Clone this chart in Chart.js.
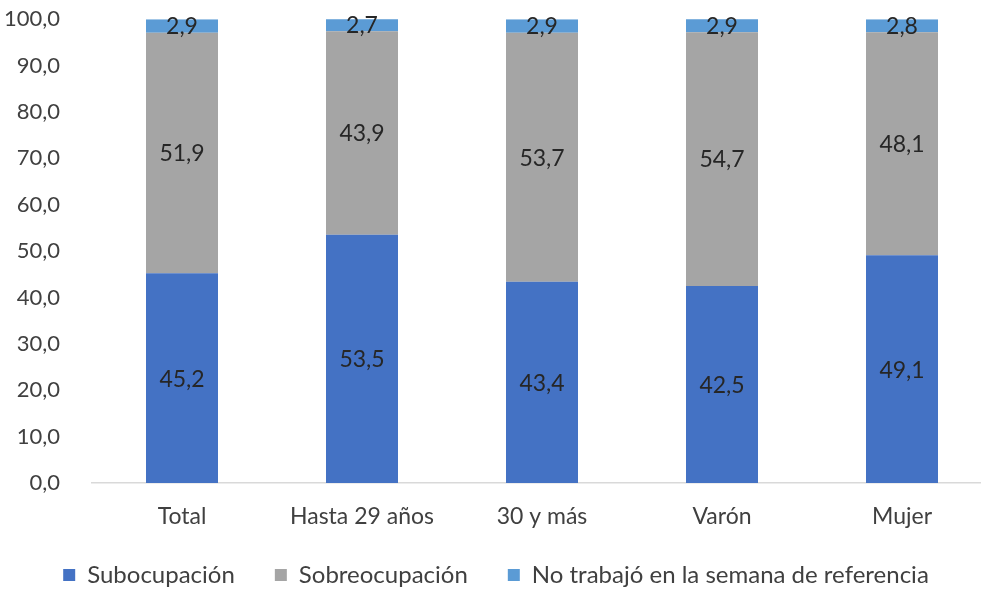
<!DOCTYPE html>
<html lang="es">
<head>
<meta charset="UTF-8">
<title>Subocupación y sobreocupación</title>
<script src="https://cdn.jsdelivr.net/npm/chart.js"></script>
<style>
    html, body { margin: 0; padding: 0; background: #fff; overflow: hidden; }
    .wrap { position: relative; top: -18px; width: 1010px; height: 615px; }
</style>
</head>
<body>
<div class="wrap"><canvas id="chart"></canvas></div>
<script>
const categories = ['Total', 'Hasta 29 años', '30 y más', 'Varón', 'Mujer'];
const subocupacion = [45.2, 53.5, 43.4, 42.5, 49.1];
const sobreocupacion = [51.9, 43.9, 53.7, 54.7, 48.1];
const noTrabajo = [2.9, 2.7, 2.9, 2.9, 2.8];

const fmt = v => v.toFixed(1).replace('.', ',');
const FONT = 'Lato, "Open Sans", sans-serif';

// draws each value in the middle of its segment
const centreLabels = {
    id: 'centreLabels',
    afterDatasetsDraw(chart) {
        const ctx = chart.ctx;
        ctx.save();
        ctx.font = '23px ' + FONT;
        ctx.fillStyle = '#262626';
        ctx.textAlign = 'center';
        ctx.textBaseline = 'middle';
        chart.data.datasets.forEach((ds, i) => {
            chart.getDatasetMeta(i).data.forEach((bar, j) => {
                const p = bar.getProps(['x', 'y', 'base'], true);
                ctx.fillText(fmt(ds.data[j]), p.x, (p.y + p.base) / 2 + 1);
            });
        });
        ctx.restore();
    }
};

// the x axis is squeezed so the legend sits close; let its labels draw past it
const unclipX = {
    id: 'unclipX',
    afterLayout(chart) { chart.scales.x.bottom = chart.height; }
};

new Chart(document.getElementById('chart'), {
    type: 'bar',
    data: {
        labels: categories,
        datasets: [
            { label: 'Subocupación', data: subocupacion, backgroundColor: '#4472C4' },
            { label: 'Sobreocupación', data: sobreocupacion, backgroundColor: '#A5A5A5' },
            { label: 'No trabajó en la semana de referencia', data: noTrabajo, backgroundColor: '#5B9BD5' }
        ]
    },
    options: {
        responsive: true,
        maintainAspectRatio: false,
        animation: false,
        layout: { padding: { left: 0, right: 18, top: 0, bottom: 0 } },
        datasets: { bar: { categoryPercentage: 1, barPercentage: 0.4 } },
        scales: {
            x: {
                stacked: true,
                grid: { display: false },
                border: { color: '#d9d9d9', width: 1.5 },
                afterFit: s => { s.height = 40; },
                ticks: { color: '#404040', font: { family: FONT, size: 23 }, padding: 12 }
            },
            y: {
                stacked: true,
                min: 0,
                max: 100,
                grid: { display: false },
                border: { display: false },
                afterFit: s => { s.width = 92; },
                ticks: {
                    stepSize: 10,
                    color: '#404040',
                    padding: 24,
                    font: { family: FONT, size: 22 },
                    callback: v => fmt(v)
                }
            }
        },
        plugins: {
            legend: {
                position: 'bottom',
                labels: {
                    boxWidth: 12,
                    boxHeight: 12,
                    padding: 40,
                    color: '#404040',
                    font: { family: FONT, size: 24 }
                }
            },
            tooltip: { enabled: false }
        }
    },
    plugins: [centreLabels, unclipX]
});
</script>
</body>
</html>
